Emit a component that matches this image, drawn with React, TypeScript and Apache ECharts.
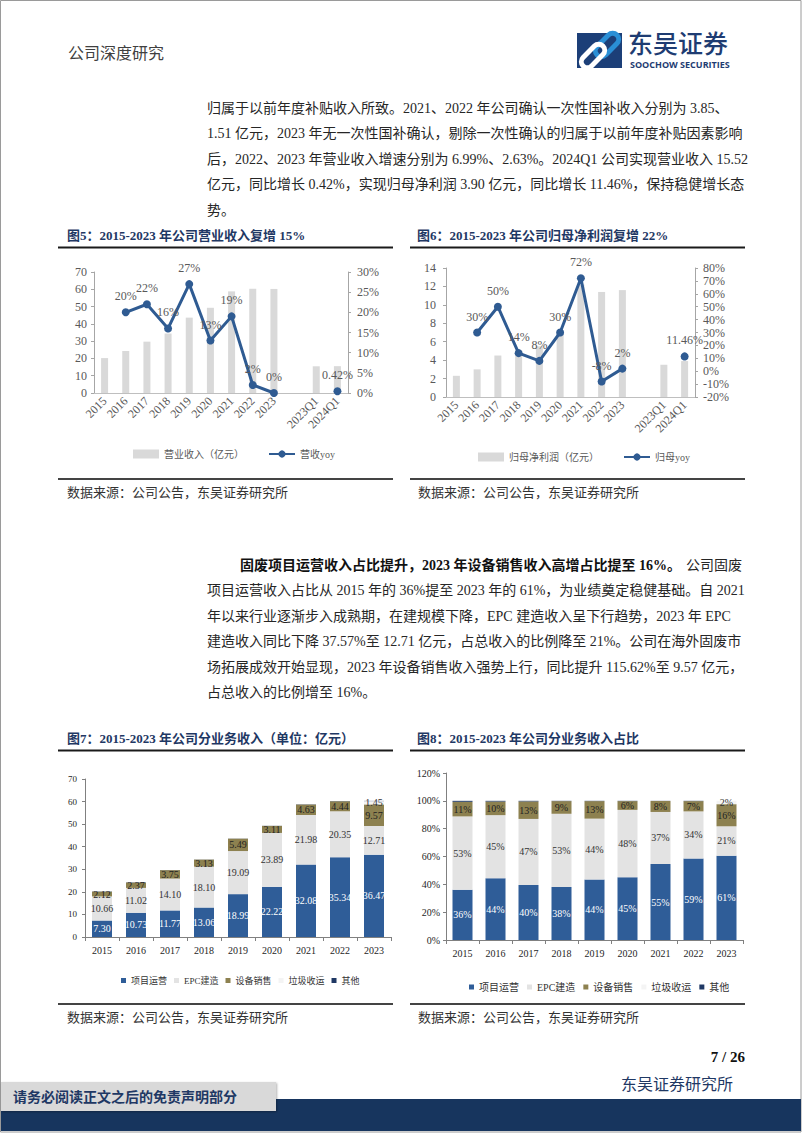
import React, { useEffect, useRef } from 'react';
import * as echarts from 'echarts';

const SERIF = "'Liberation Serif', 'Noto Sans CJK SC', serif";
const NAVY = '#1f3864';
const LINE_BLUE = '#2f5b92';

// ---- Figure 5 / 6 data ----
const cats56 = ['2015', '2016', '2017', '2018', '2019', '2020', '2021', '2022', '2023', '', '2023Q1', '2024Q1'];
const revenue = [20.2, 24.3, 29.7, 34.4, 43.6, 49.3, 58.8, 60.3, 60.2, null, 15.45, 15.52];
const revenueYoy = [null, 20, 22, 16, 27, 13, 19, 2, 0, null, null, 0.42];
const netProfit = [2.3, 3.0, 4.5, 5.1, 5.5, 7.1, 12.2, 11.4, 11.6, null, 3.5, 3.9];
const netProfitYoy = [null, 30, 50, 14, 8, 30, 72, -8, 2, null, null, 11.46];

// ---- Figure 7 / 8 data ----
const years78 = ['2015', '2016', '2017', '2018', '2019', '2020', '2021', '2022', '2023'];
const segNames = ['项目运营', 'EPC建造', '设备销售', '垃圾收运', '其他'];
const segColors = ['#2f5d98', '#e3e3e3', '#8d8150', '#f4f4f4', '#1f3864'];
const segLabelColors = ['#ffffff', '#333333', '#222222', '#333333', '#333333'];
const opsRev = [7.3, 10.73, 11.77, 13.06, 18.99, 22.22, 32.08, 35.34, 36.47];
const epcRev = [10.66, 11.02, 14.1, 18.1, 19.09, 23.89, 21.98, 20.35, 12.71];
const equipRev = [2.12, 2.37, 3.75, 3.13, 5.49, 3.11, 4.63, 4.44, 9.57];
const wasteRev = [0, 0, 0, 0, 0, 0, 0, 0, 1.45];
const otherRev = [0.1, 0.1, 0.05, 0.05, 0.05, 0.05, 0.1, 0.1, 0.1];
const opsShare = [36.1, 44.3, 39.6, 38.0, 43.5, 45.1, 54.6, 58.6, 60.6];
const epcShare = [52.7, 45.4, 47.4, 52.7, 43.7, 48.4, 37.4, 33.8, 21.1];
const equipShare = [10.5, 9.8, 12.6, 9.1, 12.6, 6.3, 7.9, 7.4, 15.9];
const wasteShare = [0, 0, 0, 0, 0, 0, 0, 0, 2.4];
const otherShare = [0.7, 0.5, 0.4, 0.2, 0.2, 0.2, 0.1, 0.2, 0.0];

// ---- Text ----
const para1 = [
  '归属于以前年度补贴收入所致。2021、2022 年公司确认一次性国补收入分别为 3.85、',
  '1.51 亿元，2023 年无一次性国补确认，剔除一次性确认的归属于以前年度补贴因素影响',
  '后，2022、2023 年营业收入增速分别为 6.99%、2.63%。2024Q1 公司实现营业收入 15.52',
  '亿元，同比增长 0.42%，实现归母净利润 3.90 亿元，同比增长 11.46%，保持稳健增长态',
  '势。',
];
const para2Bold = '固废项目运营收入占比提升，2023 年设备销售收入高增占比提至 16%。';
const para2Head = '公司固废';
const para2 = [
  '项目运营收入占比从 2015 年的 36%提至 2023 年的 61%，为业绩奠定稳健基础。自 2021',
  '年以来行业逐渐步入成熟期，在建规模下降，EPC 建造收入呈下行趋势，2023 年 EPC',
  '建造收入同比下降 37.57%至 12.71 亿元，占总收入的比例降至 21%。公司在海外固废市',
  '场拓展成效开始显现，2023 年设备销售收入强势上行，同比提升 115.62%至 9.57 亿元，',
  '占总收入的比例增至 16%。',
];
const titles = [
  '图5：2015-2023 年公司营业收入复增 15%',
  '图6：2015-2023 年公司归母净利润复增 22%',
  '图7：2015-2023 年公司分业务收入（单位：亿元）',
  '图8：2015-2023 年公司分业务收入占比',
];
const sourceText = '数据来源：公司公告，东吴证券研究所';

function txt(text: string, x: number, y: number, o: any = {}) {
  return {
    type: 'text',
    x,
    y,
    silent: true,
    style: {
      text,
      fontSize: o.size || 14,
      fontFamily: o.family || SERIF,
      fontWeight: o.weight || 'normal',
      fill: o.fill || '#262626',
      align: o.align || 'left',
      verticalAlign: 'middle',
    },
  };
}
function hline(x1: number, x2: number, y: number, color: string, w: number) {
  return { type: 'line', silent: true, shape: { x1, y1: y, x2, y2: y }, style: { stroke: color, lineWidth: w } };
}

function buildGraphics() {
  const g: any[] = [];
  // page border
  g.push({ type: 'rect', silent: true, shape: { x: 0.5, y: 0.5, width: 800.5, height: 1131.5 }, style: { fill: 'none', stroke: '#9a9a9a', lineWidth: 1 } });
  // header
  g.push(txt('公司深度研究', 68, 53, { size: 16, fill: '#404040' }));
  // logo
  g.push({ type: 'rect', silent: true, shape: { x: 577, y: 33, width: 45, height: 35 }, style: { fill: '#1c3f78' } });
  g.push({ type: 'rect', silent: true, x: 607, y: 45, rotation: Math.PI / 4, shape: { x: -14, y: -6, width: 28, height: 12, r: 6 }, style: { fill: 'none', stroke: '#2a8fd6', lineWidth: 5 } });
  g.push({ type: 'rect', silent: true, x: 593, y: 56, rotation: Math.PI / 4, shape: { x: -14, y: -6, width: 28, height: 12, r: 6 }, style: { fill: 'none', stroke: '#ffffff', lineWidth: 5 } });
  g.push(txt('东吴证券', 628, 42, { size: 25, family: "'Noto Sans CJK SC', sans-serif", fill: '#1e3c72', weight: 500 }));
  g.push(txt('SOOCHOW SECURITIES', 630, 64.5, { size: 9, family: "'Open Sans', 'DejaVu Sans', sans-serif", fill: '#1e3c72', weight: 'bold' }));

  // paragraph 1
  para1.forEach((l, i) => g.push(txt(l, 207, 108 + 25.5 * i)));
  // paragraph 2
  g.push(txt(para2Bold, 240, 565, { weight: 'bold', fill: '#111' }));
  g.push(txt(para2Head, 742, 565, { align: 'right' }));
  para2.forEach((l, i) => g.push(txt(l, 207, 590.5 + 25.5 * (i), {})));

  // figure titles + rules
  g.push(txt(titles[0], 67, 235, { size: 13, weight: 'bold', fill: NAVY }));
  g.push(txt(titles[1], 417, 235, { size: 13, weight: 'bold', fill: NAVY }));
  g.push(hline(58, 393, 247.5, '#1a1a1a', 2));
  g.push(hline(410, 745, 247.5, '#1a1a1a', 2));
  g.push(txt(titles[2], 67, 738, { size: 13, weight: 'bold', fill: NAVY }));
  g.push(txt(titles[3], 417, 738, { size: 13, weight: 'bold', fill: NAVY }));
  g.push(hline(58, 393, 750.5, '#1a1a1a', 2));
  g.push(hline(410, 745, 750.5, '#1a1a1a', 2));

  // sources
  g.push(hline(58, 393, 479, '#444', 2));
  g.push(hline(410, 745, 479, '#444', 2));
  g.push(txt(sourceText, 67, 492, { size: 13, fill: '#333' }));
  g.push(txt(sourceText, 418, 492, { size: 13, fill: '#333' }));
  g.push(hline(58, 393, 1004, '#444', 2));
  g.push(hline(410, 745, 1004, '#444', 2));
  g.push(txt(sourceText, 67, 1017, { size: 13, fill: '#333' }));
  g.push(txt(sourceText, 418, 1017, { size: 13, fill: '#333' }));

  // footer
  g.push(txt('7 / 26', 745, 1057, { size: 15, weight: 'bold', fill: '#111', align: 'right' }));
  g.push(txt('东吴证券研究所', 733, 1084, { size: 16, fill: NAVY, align: 'right' }));
  g.push({ type: 'rect', silent: true, shape: { x: 1, y: 1099, width: 800, height: 32 }, style: { fill: '#17355e' } });
  g.push({ type: 'rect', silent: true, shape: { x: 1, y: 1082, width: 275, height: 29 }, style: { fill: '#d9d9d9', shadowBlur: 2, shadowColor: 'rgba(0,0,0,0.3)', shadowOffsetX: 1, shadowOffsetY: 1 } });
  g.push(txt('请务必阅读正文之后的免责声明部分', 13, 1097, { size: 14, weight: 'bold', fill: NAVY }));
  return g;
}

const axisGray = '#a6a6a6';
const labelGray = '#595959';

function valueAxis(gridIndex: number, min: number, max: number, interval: number, o: any = {}) {
  return {
    type: 'value',
    gridIndex,
    min,
    max,
    interval,
    position: o.position || 'left',
    splitLine: { show: false },
    axisLine: { show: true, lineStyle: { color: o.lineColor || axisGray } },
    axisTick: { show: true, length: 3, lineStyle: { color: o.lineColor || axisGray } },
    axisLabel: {
      fontSize: o.fontSize || 12,
      fontFamily: SERIF,
      color: o.color || labelGray,
      margin: o.margin || 7,
      formatter: o.pct ? '{value}%' : '{value}',
    },
  };
}

function catAxis56(gridIndex: number) {
  return {
    type: 'category',
    gridIndex,
    data: cats56,
    axisLine: { show: true, lineStyle: { color: '#bfbfbf' } },
    axisTick: { show: false },
    axisLabel: { rotate: 45, interval: 0, fontSize: 12, fontFamily: SERIF, color: labelGray, margin: 6 },
  };
}
function catAxis78(gridIndex: number) {
  return {
    type: 'category',
    gridIndex,
    data: years78,
    axisLine: { show: true, lineStyle: { color: '#808080' } },
    axisTick: { show: true, length: 4, lineStyle: { color: '#808080' } },
    axisLabel: { interval: 0, fontSize: 10, fontFamily: SERIF, color: '#262626', margin: 8 },
  };
}

function lineSeries(name: string, data: any[], xi: number, yi: number) {
  return {
    type: 'line',
    name,
    xAxisIndex: xi,
    yAxisIndex: yi,
    data,
    symbol: 'circle',
    symbolSize: 8,
    lineStyle: { color: LINE_BLUE, width: 3 },
    itemStyle: { color: LINE_BLUE },
    z: 3,
    label: {
      show: true,
      position: 'top',
      distance: 6,
      fontSize: 12,
      fontFamily: SERIF,
      color: labelGray,
      formatter: (p: any) => (p.value == null ? '' : p.value + '%'),
    },
  };
}

function stackSeries(values: number[][], xi: number, yi: number, stack: string, fmt: (v: number) => string) {
  return values.map((d, i) => ({
    type: 'bar',
    name: segNames[i],
    xAxisIndex: xi,
    yAxisIndex: yi,
    stack,
    barWidth: 20,
    data: d,
    itemStyle: { color: segColors[i] },
    label: {
      show: i < 4,
      position: 'inside',
      fontSize: 10,
      fontFamily: SERIF,
      color: segLabelColors[i],
      formatter: (p: any) => (p.value > 0 ? fmt(p.value) : ''),
    },
  }));
}

export default function App() {
  const ref = useRef<HTMLDivElement>(null);
  useEffect(() => {
    const chart = echarts.init(ref.current!, null, { renderer: 'svg' });
    const option: any = {
      animation: false,
      backgroundColor: '#ffffff',
      grid: [
        { left: 94, top: 272, width: 254, height: 121, outerBoundsMode: 'none' },
        { left: 446, top: 268, width: 249, height: 129, outerBoundsMode: 'none' },
        { left: 85, top: 779, width: 306, height: 158, outerBoundsMode: 'none' },
        { left: 446, top: 773, width: 297, height: 167, outerBoundsMode: 'none' },
      ],
      xAxis: [catAxis56(0), catAxis56(1), catAxis78(2), catAxis78(3)],
      yAxis: [
        valueAxis(0, 0, 70, 10),
        valueAxis(0, 0, 30, 5, { position: 'right', pct: true, margin: 9 }),
        valueAxis(1, 0, 14, 2, { margin: 10 }),
        valueAxis(1, -20, 80, 10, { position: 'right', pct: true, margin: 8 }),
        valueAxis(2, 0, 70, 10, { fontSize: 9, color: '#262626', lineColor: '#808080', margin: 8 }),
        valueAxis(3, 0, 120, 20, { fontSize: 10, color: '#262626', lineColor: '#808080', margin: 6, pct: true }),
      ],
      legend: [
        {
          left: 128, top: 444, itemWidth: 26, itemHeight: 9, itemGap: 24,
          data: [{ name: '营业收入（亿元）', icon: 'rect' }, '营收yoy'],
          textStyle: { fontSize: 10, color: labelGray, fontFamily: SERIF },
        },
        {
          left: 473, top: 447, itemWidth: 26, itemHeight: 9, itemGap: 24,
          data: [{ name: '归母净利润（亿元）', icon: 'rect' }, '归母yoy'],
          textStyle: { fontSize: 10, color: labelGray, fontFamily: SERIF },
        },
        {
          left: 116, top: 971, itemWidth: 5, itemHeight: 5, itemGap: 7, icon: 'rect',
          data: segNames,
          textStyle: { fontSize: 9, color: '#333', fontFamily: SERIF },
        },
        {
          left: 464, top: 977, itemWidth: 5, itemHeight: 5, itemGap: 8, icon: 'rect',
          data: segNames,
          textStyle: { fontSize: 10, color: '#333', fontFamily: SERIF },
        },
      ],
      series: [
        { type: 'bar', name: '营业收入（亿元）', xAxisIndex: 0, yAxisIndex: 0, data: revenue, barWidth: 7, itemStyle: { color: '#d9d9d9' } },
        lineSeries('营收yoy', revenueYoy, 0, 1),
        { type: 'bar', name: '归母净利润（亿元）', xAxisIndex: 1, yAxisIndex: 2, data: netProfit, barWidth: 7, itemStyle: { color: '#d9d9d9' } },
        lineSeries('归母yoy', netProfitYoy, 1, 3),
        ...stackSeries([opsRev, epcRev, equipRev, wasteRev, otherRev], 2, 4, 'rev', (v) => v.toFixed(2)),
        ...stackSeries([opsShare, epcShare, equipShare, wasteShare, otherShare], 3, 5, 'share', (v) => Math.round(v) + '%'),
      ],
      graphic: { elements: buildGraphics() },
    };
    chart.setOption(option);
    return () => chart.dispose();
  }, []);
  return (
    <div
      ref={ref}
      style={{ position: 'absolute', left: 0, top: 0, width: 802, height: 1133, background: '#fff' }}
    />
  );
}
